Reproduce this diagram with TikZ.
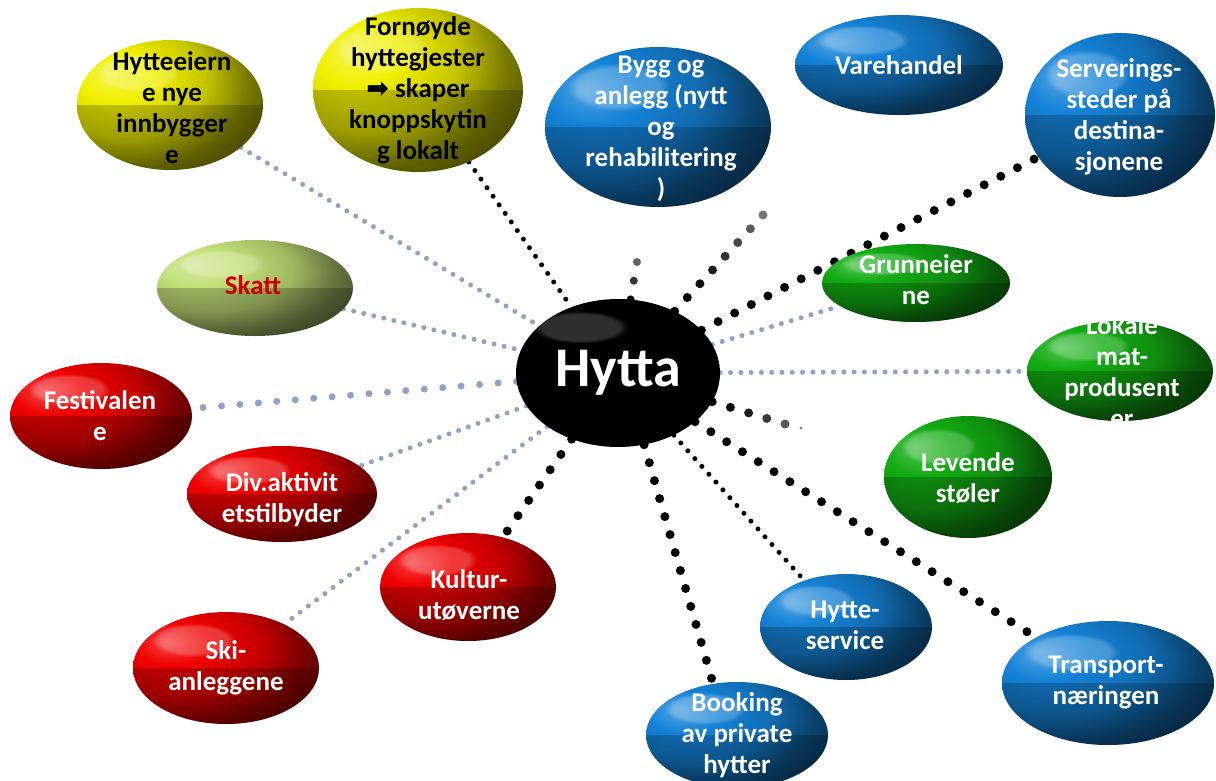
\documentclass[tikz,border=0pt]{standalone}
\usepackage{fontspec}
\setmainfont{Carlito}
\newfontfamily\symfont{DejaVu Sans}
\usetikzlibrary{shapes.geometric,calc,fadings}
\pgfdeclarelayer{bg}
\pgfsetlayers{bg,main}
\colorlet{bcol}{blue}
\pgfdeclareradialshading[bcol]{glossy}{\pgfpoint{-16bp}{12bp}}{color(0bp)=(bcol!72!white); color(10bp)=(bcol); color(22bp)=(bcol!82!black); color(32bp)=(bcol!50!black); color(44bp)=(bcol!28!black); color(100bp)=(bcol!25!black)}
\definecolor{cblue}{RGB}{20,130,215}
\definecolor{cgreen}{RGB}{18,172,18}
\definecolor{cred}{RGB}{240,0,0}
\definecolor{cyellow}{RGB}{240,240,0}
\definecolor{cskatt}{RGB}{195,225,120}
\definecolor{linkblue}{RGB}{143,162,198}
\definecolor{skattred}{RGB}{204,0,0}
\tikzset{
  glossover/.style={path picture={
    \fill[black, fill opacity=0.2] (path picture bounding box.west) rectangle (path picture bounding box.south east);
    \coordinate (hA) at ($(path picture bounding box.north west)!0.10!(path picture bounding box.south east)$);
    \coordinate (hX) at ($(path picture bounding box.north west)!0.55!(path picture bounding box.south east)$);
    \coordinate (hY) at ($(path picture bounding box.north west)!0.40!(path picture bounding box.south east)$);
    \fill[white, fill opacity=0.22, path fading=circle with fuzzy edge 20 percent] (hA) rectangle (hX |- hY);
  }},
  bubble/.style={ellipse, inner sep=0pt, draw=none, /utils/exec={\colorlet{bcol}{#1}}, shade, shading=glossy, glossover},
  hyttabox/.style={ellipse, inner sep=0pt, fill=black, path picture={
    \coordinate (hA) at ($(path picture bounding box.north west)!0.08!(path picture bounding box.south east)$);
    \coordinate (hX) at ($(path picture bounding box.north west)!0.55!(path picture bounding box.south east)$);
    \coordinate (hY) at ($(path picture bounding box.north west)!0.30!(path picture bounding box.south east)$);
    \fill[white, fill opacity=0.18, path fading=circle with fuzzy edge 20 percent] (hA) rectangle (hX |- hY);
  }},
  txt/.style={align=center, inner sep=0pt, text=white, font=\bfseries\fontsize{27}{31}\selectfont},
  bluedot/.style={draw=linkblue, line width=5pt, line cap=round, dash pattern=on 0pt off 10.3pt},
  bluebig/.style={draw=linkblue, line width=7pt, line cap=round, dash pattern=on 0pt off 18.5pt},
  blackbig/.style={draw=black, line width=9pt, line cap=round, dash pattern=on 0pt off 18.7pt},
  blacksmall/.style={draw=black, line width=5pt, line cap=round, dash pattern=on 0pt off 10.5pt},
  fdot/.style={circle, inner sep=0pt, minimum size=9pt, draw=none},
}
\begin{document}
\begin{tikzpicture}[x=1pt,y=-1pt]
\useasboundingbox (0,0) rectangle (1216,780);
% bubbles
\node[bubble=cyellow, minimum width=186, minimum height=130] (hytteeier) at (170,105) {};
\node[bubble=cyellow, minimum width=210, minimum height=164] (fornoyde) at (418,90) {};
\node[bubble=cblue, minimum width=226, minimum height=160] (bygg) at (658,127) {};
\node[bubble=cblue, minimum width=208, minimum height=100] (vare) at (899,65) {};
\node[bubble=cblue, minimum width=190, minimum height=164] (servering) at (1120,115) {};
\node[bubble=cgreen, minimum width=188, minimum height=78] (grunn) at (916,283) {};
\node[bubble=cgreen, minimum width=186, minimum height=100] (lokale) at (1120,371) {};
\node[bubble=cgreen, minimum width=168, minimum height=122] (levende) at (968,477) {};
\node[bubble=cskatt, minimum width=196, minimum height=96] (skatt) at (255,288) {};
\node[bubble=cred, minimum width=182, minimum height=106] (festival) at (101,416) {};
\node[bubble=cred, minimum width=190, minimum height=96] (div) at (282,494) {};
\node[bubble=cred, minimum width=176, minimum height=108] (kultur) at (468,587) {};
\node[bubble=cred, minimum width=186, minimum height=112] (ski) at (226,668) {};
\node[bubble=cblue, minimum width=182, minimum height=106] (booking) at (737,735) {};
\node[bubble=cblue, minimum width=172, minimum height=106] (hytteserv) at (846,627) {};
\node[bubble=cblue, minimum width=212, minimum height=124] (transport) at (1108,683) {};
\node[hyttabox, minimum width=204, minimum height=148] (hytta) at (618,373) {};
% free ends
\coordinate (c1) at (637,262);
\coordinate (c2) at (763,215);
\coordinate (c3) at (785,424);
\coordinate (c4) at (801,428);
% texts
\node[txt, text=black] (t-hytteeier) at (172,108) {Hytteeiern\\e nye\\innbygger\\e};
\node[txt, text=black] (t-fornoyde) at (418,90) {Fornøyde\\hyttegjester\\{\symfont ➡} skaper\\knoppskytin\\g lokalt};
\node[txt] (t-bygg) at (661,129) {Bygg og\\anlegg (nytt\\og\\rehabilitering\\)};
\node[txt] (t-vare) at (899,65) {Varehandel};
\node[txt] (t-servering) at (1119,117) {Serverings-\\steder på\\destina-\\sjonene};
\node[txt] (t-grunn) at (916,280) {Grunneier\\ne};
\begin{scope}
\clip (1000,318) rectangle (1216,423);
\node[txt] (t-lokale) at (1122,372) {Lokale\\mat-\\produsent\\er};
\end{scope}
\node[txt] (t-levende) at (968,478) {Levende\\støler};
\node[txt, text=skattred] (t-skatt) at (253,285) {Skatt};
\node[txt] (t-festival) at (100,416) {Festivalen\\e};
\node[txt] (t-div) at (282,500) {Div.aktivit\\etstilbyder};
\node[txt] (t-kultur) at (469,595) {Kultur-\\utøverne};
\node[txt] (t-ski) at (226,668) {Ski-\\anleggene};
\node[txt] (t-booking) at (737,735) {Booking\\av private\\hytter};
\node[txt] (t-hytteserv) at (845,625) {Hytte-\\service};
\node[txt] (t-transport) at (1106,683) {Transport-\\næringen};
\node[txt, font=\bfseries\fontsize{56}{60}\selectfont] (t-hytta) at (618,373) {Hytta};
% connectors
\begin{pgfonlayer}{bg}
\draw[bluedot] (hytteeier) -- (hytta);
\draw[blacksmall] (fornoyde) -- (hytta);
\draw[blackbig] (hytta) -- (servering);
\draw[bluedot] (hytta) -- (grunn);
\draw[bluedot] (hytta) -- (lokale);
\draw[blackbig] (hytta) -- (transport);
\draw[blacksmall] (hytta) -- (hytteserv);
\draw[blackbig] (hytta.-70) -- (booking.115);
\draw[blackbig] (hytta) -- (kultur);
\draw[bluedot] (hytta) -- (ski);
\draw[bluedot] (hytta) -- (div);
\draw[bluebig] (hytta) -- (festival);
\draw[bluedot] (skatt) -- (hytta);
\path (hytta) -- (c1) foreach \t/\k/\i in {0/100/1,0.5/80/2,1/62/3} {node[fdot, minimum size=8pt, pos=\t, fill=black!\k] (fa\i) {}};
\path (hytta) -- (c2) foreach \t/\k/\i in {0/100/1,0.142857/100/2,0.285714/95/3,0.428571/88/4,0.571429/80/5,0.714286/72/6,0.857143/64/7,1/55/8} {node[fdot, pos=\t, fill=black!\k] (fb\i) {}};
\path (hytta) -- (c3) foreach \t/\k/\i in {0/100/1,0.25/95/2,0.5/88/3,0.75/78/4,1/65/5} {node[fdot, pos=\t, fill=black!\k] (fc\i) {}};
\fill[black!50] (c4) circle (1.5);
\end{pgfonlayer}
\end{tikzpicture}
\end{document}
